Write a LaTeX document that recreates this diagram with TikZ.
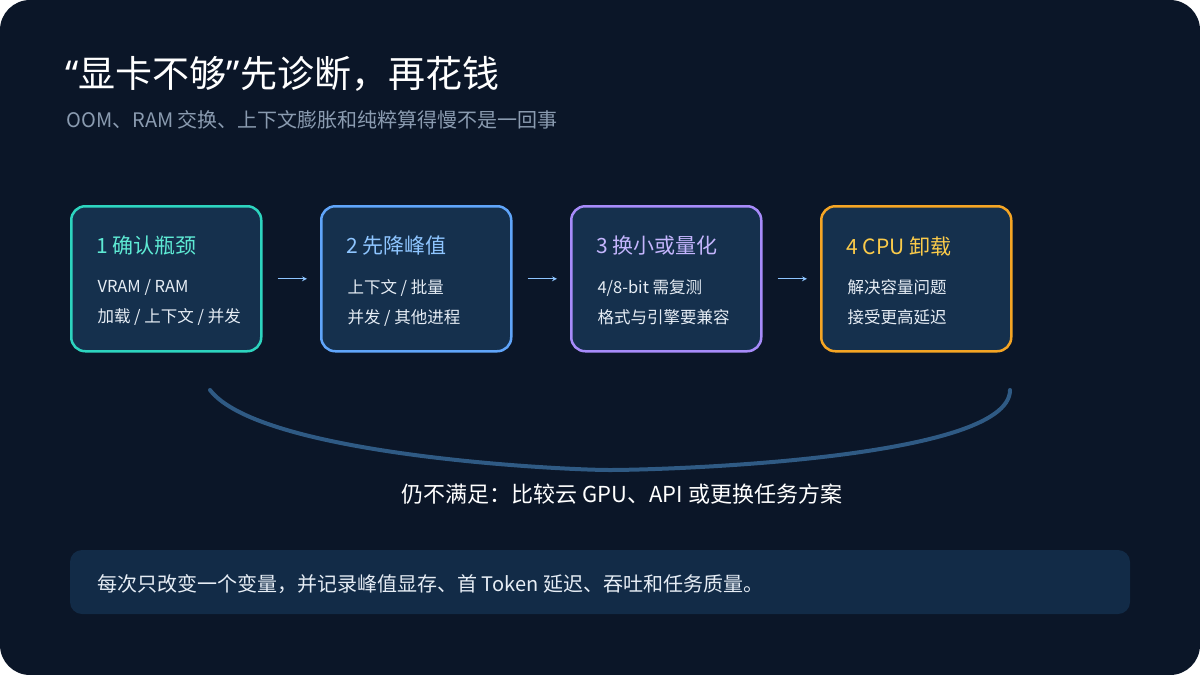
\documentclass[tikz,border=0pt]{standalone}
\usepackage{fontspec}
\setmainfont{Noto Sans CJK SC}
\newfontfamily\qf{Noto Sans}
\begin{document}
\definecolor{bg}{HTML}{0B1628}
\definecolor{boxf}{HTML}{15304D}
\definecolor{cA}{HTML}{2DD4BF}
\definecolor{cB}{HTML}{60A5FA}
\definecolor{cC}{HTML}{A78BFA}
\definecolor{cD}{HTML}{F5A524}
\definecolor{tA}{HTML}{5EEAD4}
\definecolor{tB}{HTML}{8EC5FF}
\definecolor{tC}{HTML}{C4B5FD}
\definecolor{tD}{HTML}{FBCB4A}
\definecolor{sub}{HTML}{8A9BB0}
\definecolor{bodyc}{HTML}{E6EDF5}
\definecolor{arcc}{HTML}{2F5A84}
\definecolor{note}{HTML}{122B47}
\begin{tikzpicture}[x=1pt,y=-1pt,
  box/.style={draw=#1,line width=2.5pt,fill=boxf,rounded corners=14pt,minimum width=190pt,minimum height=145pt,anchor=north west},
  hd/.style={text=#1,font=\fontsize{21}{24}\selectfont,anchor=west},
  bd/.style={text=bodyc,font=\fontsize{16.5}{30}\selectfont,anchor=north west,align=left},
  arr/.style={->,draw=tB,line width=1.2pt,>=stealth}]
\fill[white] (0,0) rectangle (1200,675);
\fill[bg,rounded corners=30pt] (0,0) rectangle (1200,675);
\useasboundingbox (0,0) rectangle (1200,675);
\node[anchor=west,text=white,font=\fontsize{37}{40}\selectfont] (t) at (62,74) {{\qf“}显卡不够{\qf”}先诊断，再花钱};
\node[anchor=west,text=sub,font=\fontsize{20}{22}\selectfont] (s) at (63,120) {OOM、RAM 交换、上下文膨胀和纯粹算得慢不是一回事};
\newcommand\stage[7]{%
  \node[box=#3] (b#1) at (#2,205) {};
  \node[hd=#4] (h#1) at (#2+23,246) {#5};
  \node[bd] (d#1) at (#2+24,276) {#6\\#7};}
\stage{1}{70}{cA}{tA}{1 确认瓶颈}{VRAM / RAM}{加载 / 上下文 / 并发}
\stage{2}{320}{cB}{tB}{2 先降峰值}{上下文 / 批量}{并发 / 其他进程}
\stage{3}{570}{cC}{tC}{3 换小或量化}{4/8-bit 需复测}{格式与引擎要兼容}
\stage{4}{820}{cD}{tD}{4 CPU 卸载}{解决容量问题}{接受更高延迟}
\draw[arr] ([xshift=15pt]b1.east) -- ([xshift=-13pt]b2.west);
\draw[arr] ([xshift=15pt]b2.east) -- ([xshift=-13pt]b3.west);
\draw[arr] ([xshift=15pt]b3.east) -- ([xshift=-13pt]b4.west);
\coordinate (l) at (210,390); \coordinate (r) at (1010,390);
\draw[arcc,line width=4pt,line cap=round] (l) .. controls (260,455) and (560,470) .. (610,470) .. controls (660,470) and (1010,460) .. (r);
\node[text=white,font=\fontsize{22}{24}\selectfont] (m) at (622,494) {仍不满足：比较云 GPU、API 或更换任务方案};
\fill[note,rounded corners=12pt] (70,550) rectangle (1130,614);
\node[anchor=west,text=bodyc,font=\fontsize{20}{22}\selectfont] (n) at (94,584) {每次只改变一个变量，并记录峰值显存、首 Token 延迟、吞吐和任务质量。};
\end{tikzpicture}
\end{document}
